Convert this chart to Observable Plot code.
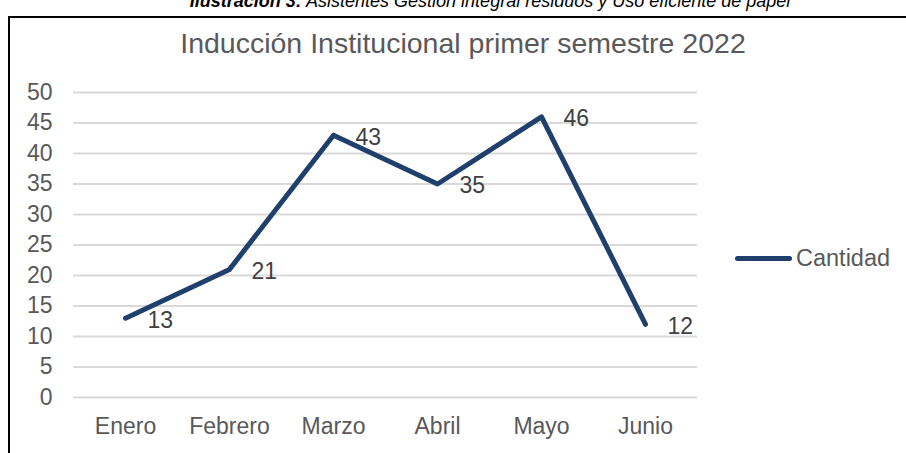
<!DOCTYPE html>
<html>
<head>
<meta charset="utf-8">
<script src="https://cdn.jsdelivr.net/npm/d3@7"></script>
<script src="https://cdn.jsdelivr.net/npm/@observablehq/plot@0.6"></script>
<style>
  html, body { margin: 0; padding: 0; background: #fff; overflow: hidden; }
  #wrap { position: relative; width: 906px; height: 453px; overflow: hidden; font-family: "Liberation Sans", Arial, sans-serif; }
  #caption { position: absolute; left: 0; width: 980px; top: -8px; text-align: center; font-size: 18px; font-style: italic; color: #000; line-height: 18px; white-space: nowrap; }
  #frame { position: absolute; left: 8px; top: 16px; width: 920px; height: 460px; border-left: 2px solid #000; border-top: 2px solid #000; pointer-events: none; }
  #chart { position: absolute; left: 0; top: 0; }
  #title { position: absolute; left: 0; width: 926px; top: 27px; text-align: center; font-size: 28.5px; color: #595959; white-space: nowrap; }
  #legend { position: absolute; left: 735px; top: 245px; display: flex; align-items: center; font-size: 23.5px; color: #595959; }
  #legend .sw { width: 57px; height: 5px; background: #1F3F6C; border-radius: 3px; margin-right: 4px; }
</style>
</head>
<body>
<div id="wrap">
  <div id="caption"><b>Ilustración 3:</b> Asistentes Gestión integral residuos y Uso eficiente de papel</div>
  <div id="chart"></div>
  <div id="title">Inducción Institucional primer semestre 2022</div>
  <div id="legend"><span class="sw"></span><span id="legendLabel"></span></div>
  <div id="frame"></div>
</div>
<script>
const months = ["Enero", "Febrero", "Marzo", "Abril", "Mayo", "Junio"];
const cantidad = [13, 21, 43, 35, 46, 12];
const seriesName = "Cantidad";
const yTicks = [0, 5, 10, 15, 20, 25, 30, 35, 40, 45, 50];

const data = months.map((m, i) => ({month: m, value: cantidad[i]}));
const lineColor = "#1F3F6C";

document.getElementById("legendLabel").textContent = seriesName;

const chart = Plot.plot({
  width: 906,
  height: 453,
  marginLeft: 73,
  marginRight: 209,
  marginTop: 92,
  marginBottom: 56,
  style: {fontFamily: "Liberation Sans, Arial, sans-serif", fontSize: "23px", color: "#595959", background: "transparent"},
  x: {type: "point", domain: months, padding: 0.5, label: null},
  y: {domain: [0, 50], label: null},
  marks: [
    Plot.gridY(yTicks, {stroke: "#d9d9d9", strokeOpacity: 1, strokeWidth: 2}),
    Plot.axisY(yTicks, {tickSize: 0, tickPadding: 21, fill: "#595959", fontSize: 23, label: null}),
    Plot.axisX(months, {tickSize: 0, tickPadding: 20, fill: "#595959", fontSize: 23, label: null}),
    Plot.lineY(data, {x: "month", y: "value", stroke: lineColor, strokeWidth: 5, strokeLinejoin: "round", strokeLinecap: "round"}),
    Plot.text(data, {x: "month", y: "value", text: d => String(d.value), textAnchor: "start", dx: 22, dy: 2, fill: "#404040", fontSize: 23})
  ]
});
document.getElementById("chart").appendChild(chart);
</script>
</body>
</html>
